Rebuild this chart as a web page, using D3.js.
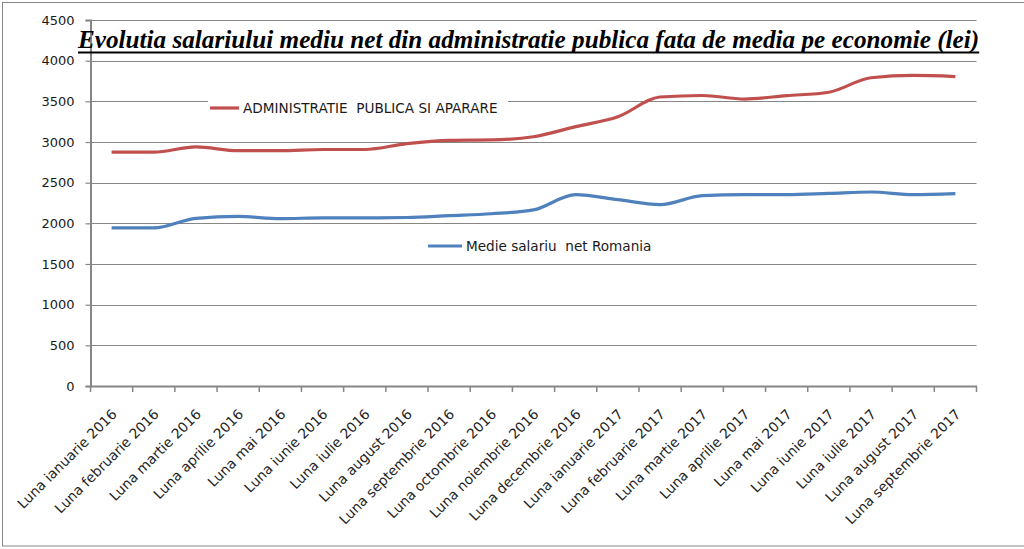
<!DOCTYPE html>
<html>
<head>
<meta charset="utf-8">
<script src="https://cdn.jsdelivr.net/npm/d3@7"></script>
<style>
  html, body { margin: 0; padding: 0; background: #fff; }
  svg { display: block; }
</style>
</head>
<body>
<svg id="chart" width="1024" height="549"></svg>
<script>
const categories = [
  "Luna ianuarie 2016", "Luna februarie 2016", "Luna martie 2016", "Luna aprilie 2016",
  "Luna mai 2016", "Luna iunie 2016", "Luna iulie 2016", "Luna august 2016",
  "Luna septembrie 2016", "Luna octombrie 2016", "Luna noiembrie 2016", "Luna decembrie 2016",
  "Luna ianuarie 2017", "Luna februarie 2017", "Luna martie 2017", "Luna aprilie 2017",
  "Luna mai 2017", "Luna iunie 2017", "Luna iulie 2017", "Luna august 2017",
  "Luna septembrie 2017"
];
const adminValues = [2875, 2875, 2940, 2893, 2893, 2908, 2908, 2980, 3020, 3025, 3065,
  3189, 3310, 3553, 3572, 3528, 3570, 3612, 3790, 3818, 3805];
const medieValues = [1943, 1943, 2062, 2085, 2057, 2068, 2068, 2072, 2095, 2118, 2165,
  2353, 2291, 2230, 2340, 2353, 2353, 2368, 2385, 2353, 2365];
const yTicks = [0, 500, 1000, 1500, 2000, 2500, 3000, 3500, 4000, 4500];
const seriesNames = ["ADMINISTRATIE  PUBLICA SI APARARE", "Medie salariu  net Romania"];
const titleText = "Evolutia salariului mediu net din administratie publica fata de media pe economie (lei)";

const svg = d3.select("#chart");
const gridColor = "#868686";
const colors = ["#C0504D", "#4F81BD"];

const x = d3.scaleBand().domain(categories).range([90.5, 976.5]);
const y = d3.scaleLinear().domain([0, 4500]).range([386, 20]);

// outer border
svg.append("rect").attr("x", 2.5).attr("y", 2.5).attr("width", 1040).attr("height", 543.5)
  .attr("fill", "none").attr("stroke", gridColor).attr("stroke-width", 1);

// gridlines
svg.append("g").selectAll("line").data(yTicks.filter(d => d > 0)).join("line")
  .attr("x1", 90.5).attr("x2", 976.5)
  .attr("y1", d => Math.round(y(d)) + 0.5).attr("y2", d => Math.round(y(d)) + 0.5)
  .attr("stroke", gridColor).attr("stroke-width", 1.2);

// y axis
const yAxis = d3.axisLeft(y).tickValues(yTicks).tickSize(5).tickPadding(11).tickFormat(d3.format("d"));
const gy = svg.append("g").attr("transform", "translate(90.5,0)").call(yAxis);
gy.select(".domain").attr("stroke", gridColor).attr("stroke-width", 2);
gy.selectAll(".tick line").attr("stroke", gridColor).attr("stroke-width", 1.2);
gy.selectAll(".tick text").attr("fill", "#1a1a1a")
  .style("font-family", "DejaVu Sans").style("font-size", "13px");

// x axis
const xAxis = d3.axisBottom(x).tickSize(0).tickFormat("");
const gx = svg.append("g").attr("transform", `translate(0,${y(0)})`).call(xAxis);
gx.select(".domain").attr("stroke", gridColor).attr("stroke-width", 2);
gx.selectAll(".tick").remove();
// tick marks at category boundaries
const bounds = categories.map(c => x(c)).concat([x(categories[categories.length - 1]) + x.bandwidth()]);
gx.selectAll("line.bt").data(bounds).join("line").attr("class", "bt")
  .attr("x1", d => d).attr("x2", d => d).attr("y1", 0).attr("y2", 6)
  .attr("stroke", gridColor).attr("stroke-width", 1.5);
// labels
gx.selectAll("text.xl").data(categories).join("text").attr("class", "xl")
  .attr("transform", d => `translate(${x(d) + x.bandwidth() / 2 + 6},${29}) rotate(-45)`)
  .attr("text-anchor", "end")
  .style("font-family", "DejaVu Sans").style("font-size", "13.8px").attr("fill", "#222")
  .text(d => d);

// lines
const line = d3.line()
  .x((d, i) => x(categories[i]) + x.bandwidth() / 2)
  .y(d => y(d))
  .curve(d3.curveMonotoneX);
[adminValues, medieValues].forEach((vals, k) => {
  svg.append("path").datum(vals).attr("d", line)
    .attr("fill", "none").attr("stroke", colors[k]).attr("stroke-width", 3.2)
    .attr("stroke-linejoin", "round").attr("stroke-linecap", "butt");
});

// legend items
const legendPos = [{lx: 210, ly: 108, w: 300}, {lx: 428, ly: 246, w: 225}];
seriesNames.forEach((name, k) => {
  const p = legendPos[k];
  const g = svg.append("g").attr("transform", `translate(${p.lx},${p.ly})`);
  g.append("rect").attr("x", -2).attr("y", -8).attr("width", p.w).attr("height", 16).attr("fill", "#fff");
  g.append("line").attr("x1", 0).attr("x2", k === 0 ? 29 : 34).attr("y1", 0).attr("y2", 0)
    .attr("stroke", colors[k]).attr("stroke-width", 3.2);
  g.append("text").attr("x", k === 0 ? 33 : 38).attr("y", 5)
    .style("font-family", "DejaVu Sans").style("font-size", "13.6px").attr("fill", "#1a1a1a")
    .style("white-space", "pre").attr("xml:space", "preserve")
    .text(name);
});

// title
const title = svg.append("text").attr("x", 78).attr("y", 48)
  .style("font-family", "Liberation Serif").style("font-size", "25.2px")
  .style("font-weight", "bold").style("font-style", "italic").attr("fill", "#000")
  .text(titleText);
const tw = title.node().getComputedTextLength();
svg.append("line").attr("x1", 78).attr("x2", 78 + tw).attr("y1", 52.5).attr("y2", 52.5)
  .attr("stroke", "#000").attr("stroke-width", 2);
</script>
</body>
</html>
